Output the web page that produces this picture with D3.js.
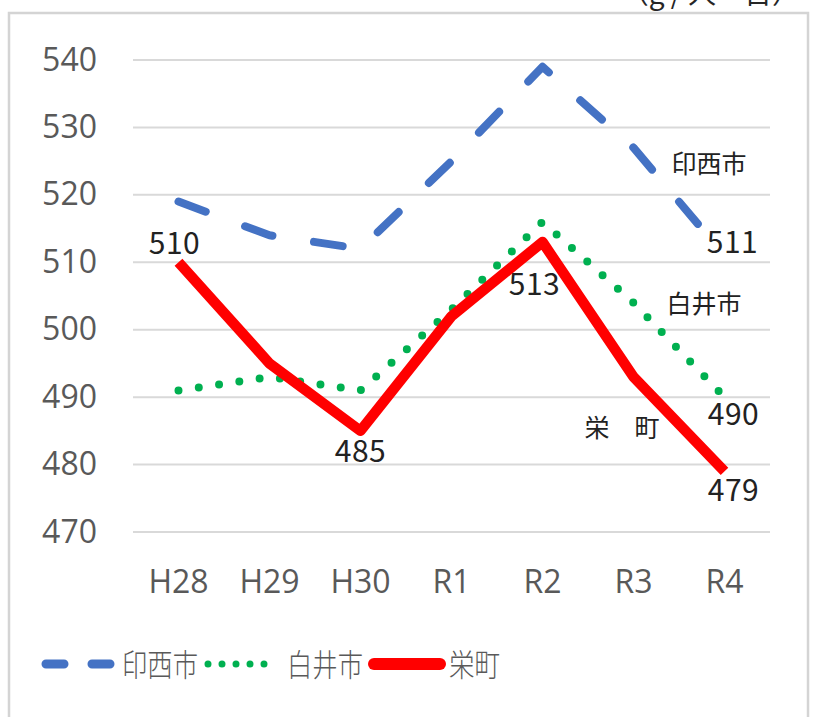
<!DOCTYPE html>
<html lang="ja">
<head>
  <meta charset="UTF-8">
  <title>1人1日当たりごみ排出量</title>
  <script src="https://d3js.org/d3.v7.min.js"></script>
  <style type="text/css">
    body {
      margin: 0;
      background: #fff;
    }
    svg text {
      font-family: 'Open Sans', 'Noto Sans', sans-serif;
    }
    .jp {
      font-family: 'Noto Sans CJK JP', sans-serif !important;
    }
  </style>
</head>
<body>
<div id="chart"></div>
<script>
  // data
  var years = ['H28', 'H29', 'H30', 'R1', 'R2', 'R3', 'R4'];
  var inzai = [519, 514, 512, 525, 539, 527, 511];
  var shiroi = [491, 493, 491, 503, 516, 504, 490];
  var sakae = [510, 495, 485, 502, 513, 493, 479];
  var yTicks = [470, 480, 490, 500, 510, 520, 530, 540];

  var W = 813, H = 717;
  var PLOT = {left: 133, right: 770, top: 60, bottom: 532};

  var svg = d3.select('#chart').append('svg')
    .attr('width', W)
    .attr('height', H);

  // outer frame of the chart area
  svg.append('rect')
    .attr('x', 9).attr('y', 13)
    .attr('width', 799).attr('height', 720)
    .attr('fill', '#fff')
    .attr('stroke', '#d4d4d4')
    .attr('stroke-width', 2.5);

  // unit label, cut off at the top like in the source
  svg.append('text')
    .attr('class', 'jp')
    .attr('x', 800).attr('y', 4)
    .attr('text-anchor', 'end')
    .attr('font-size', 28)
    .attr('fill', '#262626')
    .text('（g / 人・日）');

  var xScale = d3.scaleBand()
    .domain(years)
    .range([PLOT.left, PLOT.right]);
  var yScale = d3.scaleLinear()
    .domain([470, 540])
    .range([PLOT.bottom, PLOT.top]);
  var cx = function (i) {
    return xScale(years[i]) + xScale.bandwidth() / 2;
  };

  // gridlines
  svg.append('g').selectAll('line')
    .data(yTicks)
    .enter()
    .append('line')
    .attr('x1', PLOT.left).attr('x2', PLOT.right)
    .attr('y1', function (d) { return yScale(d); })
    .attr('y2', function (d) { return yScale(d); })
    .attr('stroke', '#d9d9d9')
    .attr('stroke-width', 2);

  // y axis labels
  svg.append('g').selectAll('text')
    .data(yTicks)
    .enter()
    .append('text')
    .attr('x', 97)
    .attr('y', function (d) { return yScale(d); })
    .attr('dy', '0.33em')
    .attr('text-anchor', 'end')
    .attr('font-size', 32)
    .attr('fill', '#595959')
    .text(function (d) { return d; });

  // x axis labels
  svg.append('g').selectAll('text')
    .data(years)
    .enter()
    .append('text')
    .attr('x', function (d, i) { return cx(i); })
    .attr('y', 593)
    .attr('text-anchor', 'middle')
    .attr('font-size', 32)
    .attr('fill', '#595959')
    .text(function (d) { return d; });

  var line = d3.line()
    .x(function (d, i) { return cx(i); })
    .y(function (d) { return yScale(d); });

  // 印西市 - dashed blue
  svg.append('path')
    .datum(inzai)
    .attr('d', line)
    .attr('fill', 'none')
    .attr('stroke', '#4472c4')
    .attr('stroke-width', 8)
    .attr('stroke-linecap', 'round')
    .attr('stroke-linejoin', 'round')
    .attr('stroke-dasharray', '29,42');

  // 白井市 - dotted green
  svg.append('path')
    .datum(shiroi)
    .attr('d', line)
    .attr('fill', 'none')
    .attr('stroke', '#00b050')
    .attr('stroke-width', 8)
    .attr('stroke-linecap', 'round')
    .attr('stroke-dasharray', '0,20.5');

  // 栄町 - solid red
  svg.append('path')
    .datum(sakae)
    .attr('d', line)
    .attr('fill', 'none')
    .attr('stroke', '#ff0000')
    .attr('stroke-width', 10.5)
    .attr('stroke-linejoin', 'round');

  // data labels
  var labels = [
    {i: 0, v: sakae[0], dx: -4, dy: -8},
    {i: 2, v: sakae[2], dx: 0, dy: 31},
    {i: 4, v: sakae[4], dx: -8, dy: 53},
    {i: 6, v: inzai[6], dx: 8, dy: -3},
    {i: 6, v: shiroi[6], dx: 9, dy: 28},
    {i: 6, v: sakae[6], dx: 9, dy: 30}
  ];
  svg.append('g').selectAll('text')
    .data(labels)
    .enter()
    .append('text')
    .attr('class', 'jp')
    .attr('x', function (d) { return cx(d.i) + d.dx; })
    .attr('y', function (d) { return yScale(d.v) + d.dy; })
    .attr('text-anchor', 'middle')
    .attr('font-size', 30)
    .attr('letter-spacing', 0.5)
    .attr('fill', '#222')
    .text(function (d) { return d.v; });

  // series names inside the plot
  var names = [
    {text: '印西市', x: 709, y: 173},
    {text: '白井市', x: 704, y: 313},
    {text: '栄　町', x: 622, y: 437}
  ];
  svg.append('g').selectAll('text')
    .data(names)
    .enter()
    .append('text')
    .attr('class', 'jp')
    .attr('x', function (d) { return d.x; })
    .attr('y', function (d) { return d.y; })
    .attr('text-anchor', 'middle')
    .attr('font-size', 25)
    .attr('fill', '#222')
    .text(function (d) { return d.text; });

  // legend
  var LY = 664;
  var legend = svg.append('g');
  legend.append('line')
    .attr('x1', 46).attr('x2', 110)
    .attr('y1', LY).attr('y2', LY)
    .attr('stroke', '#4472c4')
    .attr('stroke-width', 9)
    .attr('stroke-linecap', 'round')
    .attr('stroke-dasharray', '18,28');
  legend.append('line')
    .attr('x1', 208).attr('x2', 278)
    .attr('y1', LY).attr('y2', LY)
    .attr('stroke', '#00b050')
    .attr('stroke-width', 7)
    .attr('stroke-linecap', 'round')
    .attr('stroke-dasharray', '0,14');
  legend.append('line')
    .attr('x1', 374).attr('x2', 440)
    .attr('y1', LY).attr('y2', LY)
    .attr('stroke', '#ff0000')
    .attr('stroke-width', 12)
    .attr('stroke-linecap', 'round');

  // the legend glyphs are narrow, so squeeze them to the source width
  var legendText = [
    {text: '印西市', x: 122, w: 76},
    {text: '白井市', x: 287, w: 76},
    {text: '栄町', x: 449, w: 51}
  ];
  legend.selectAll('text')
    .data(legendText)
    .enter()
    .append('text')
    .attr('class', 'jp')
    .attr('x', function (d) { return d.x; })
    .attr('y', LY + 12)
    .attr('font-size', 31)
    .attr('font-weight', 300)
    .attr('textLength', function (d) { return d.w; })
    .attr('lengthAdjust', 'spacingAndGlyphs')
    .attr('fill', '#595959')
    .text(function (d) { return d.text; });
</script>
</body>
</html>
